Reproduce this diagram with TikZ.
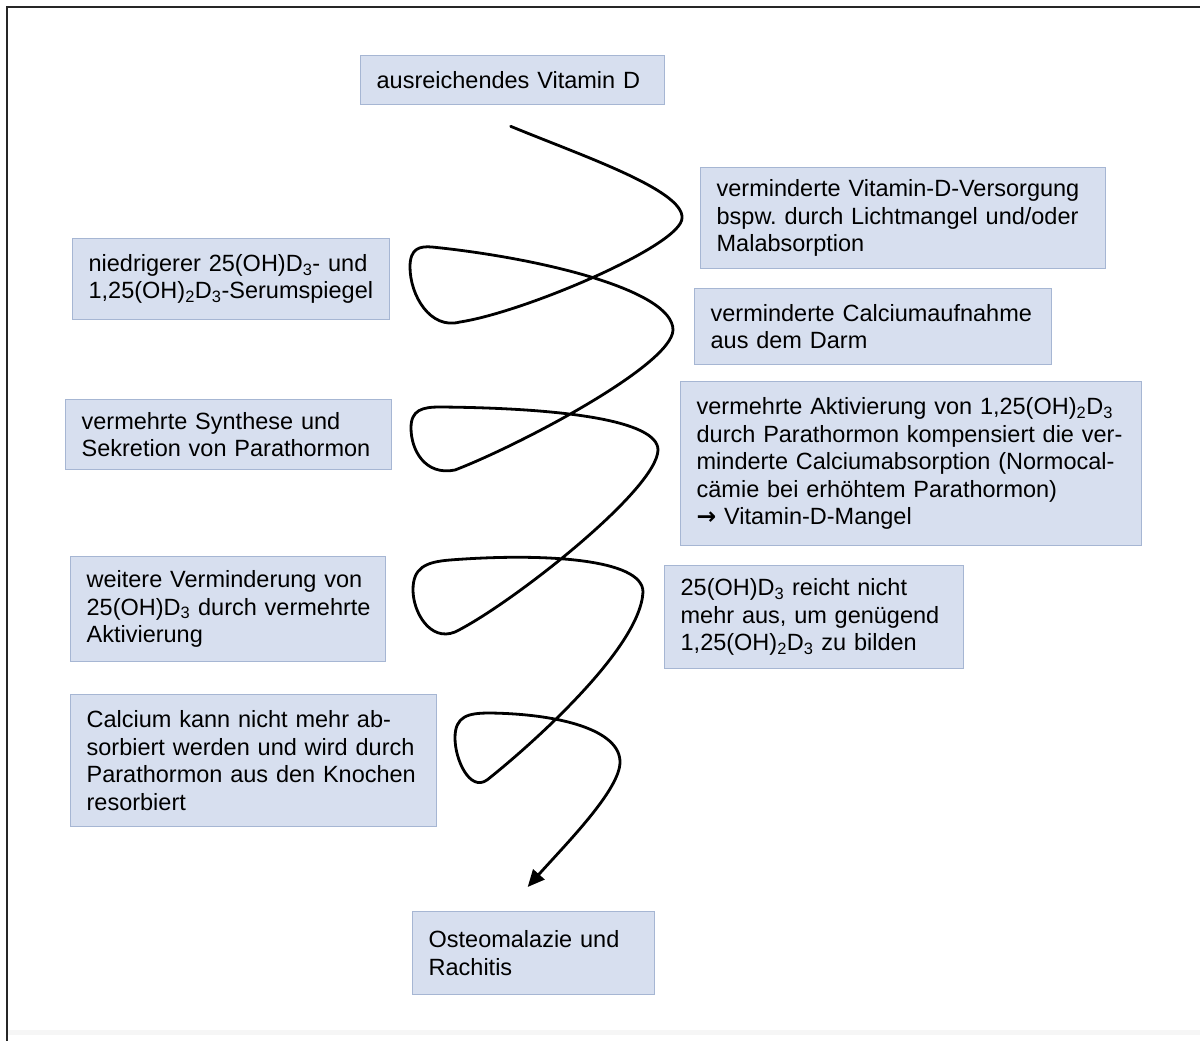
\documentclass[tikz,border=0pt]{standalone}
\usepackage{fontspec}
\setmainfont{Liberation Sans}
\newfontfamily\arrowfont{DejaVu Sans}
\usetikzlibrary{arrows.meta}
\frenchspacing

\definecolor{boxfill}{RGB}{215,223,239}
\definecolor{boxline}{RGB}{166,182,211}
\definecolor{stripgray}{RGB}{246,246,246}

\tikzset{
  infobox/.style={draw=boxline, fill=boxfill, line width=1.3pt,
    anchor=north west, align=left, inner xsep=16pt, inner ysep=0pt,
    font=\fontsize{23.5}{27.5}\selectfont},
  spiral/.style={line width=2.8pt, line cap=round, line join=round,
    -{Triangle[length=17pt,width=15pt]}},
  frameline/.style={line width=2pt, black!85}
}

\newcommand{\sub}[1]{\textsubscript{#1}}
% one unbreakable text line
\newcommand{\tl}[1]{\mbox{#1}}

\begin{document}
\begin{tikzpicture}[x=1pt, y=-1pt]
\useasboundingbox (0,0) rectangle (1200,1041);

% page frame
\fill[stripgray] (8,1030) rectangle (1200,1035);
\draw[frameline] (6.5,1041) -- (6.5,7.5) -- (1200,7.5);

% boxes
\node[infobox, minimum width=304pt, minimum height=49pt, text width=272pt] (vitd) at (360,55)
  {\tl{ausreichendes Vitamin D}};
\node[infobox, minimum width=405pt, minimum height=101pt, text width=373pt] (versorg) at (700,167)
  {\tl{verminderte Vitamin-D-Versorgung}\\\tl{bspw. durch Lichtmangel und/oder}\\\tl{Malabsorption}};
\node[infobox, minimum width=317pt, minimum height=81pt, text width=285pt] (serum) at (72,238)
  {\tl{niedrigerer 25(OH)D\sub{3}- und}\\\tl{1,25(OH)\sub{2}D\sub{3}-Serumspiegel}};
\node[infobox, minimum width=357pt, minimum height=76pt, text width=325pt] (aufnahme) at (694,288)
  {\tl{verminderte Calciumaufnahme}\\\tl{aus dem Darm}};
\node[infobox, minimum width=326pt, minimum height=70pt, text width=294pt] (synth) at (65,399)
  {\tl{vermehrte Synthese und}\\\tl{Sekretion von Parathormon}};
\node[infobox, minimum width=461pt, minimum height=164pt, text width=429pt] (aktiv) at (680,381)
  {\tl{vermehrte Aktivierung von 1,25(OH)\sub{2}D\sub{3}}\\\tl{durch Parathormon kompensiert die ver-}\\\tl{minderte Calciumabsorption (Normocal-}\\\tl{cämie bei erhöhtem Parathormon)}\\\tl{{\arrowfont\bfseries →} Vitamin-D-Mangel}};
\node[infobox, minimum width=315pt, minimum height=105pt, text width=283pt] (vermind) at (70,556)
  {\tl{weitere Verminderung von}\\\tl{25(OH)D\sub{3} durch vermehrte}\\\tl{Aktivierung}};
\node[infobox, minimum width=299pt, minimum height=103pt, text width=267pt] (reicht) at (664,565)
  {\tl{25(OH)D\sub{3} reicht nicht}\\\tl{mehr aus, um genügend}\\\tl{1,25(OH)\sub{2}D\sub{3} zu bilden}};
\node[infobox, minimum width=366pt, minimum height=132pt, text width=334pt] (resorb) at (70,694)
  {\tl{Calcium kann nicht mehr ab-}\\\tl{sorbiert werden und wird durch}\\\tl{Parathormon aus den Knochen}\\\tl{resorbiert}};
\node[infobox, minimum width=242pt, minimum height=83pt, text width=210pt] (osteo) at (412,911)
  {\tl{Osteomalazie und}\\\tl{Rachitis}};

% ends of the spiral connector
\coordinate (sstart) at ([xshift=-2pt,yshift=-21pt]vitd.south);
\coordinate (send) at ([xshift=-6pt,yshift=24pt]osteo.north);

% spiral from the first box down to the last one
\draw[spiral] (sstart)
  .. controls (580,155) and (684,190) .. (682,218)
  .. controls (682,245) and (525,312) .. (460,322)
  .. controls (430,330) and (410,295) .. (410,267)
  .. controls (410,248) and (420,246) .. (432,247)
  .. controls (540,258) and (673,290) .. (673,330)
  .. controls (672,365) and (520,445) .. (455,470)
  .. controls (425,476) and (411,450) .. (411,428)
  .. controls (411,410) and (422,407) .. (440,407)
  .. controls (560,408) and (658,420) .. (658,450)
  .. controls (657,490) and (510,605) .. (455,632)
  .. controls (430,642) and (413,612) .. (413,590)
  .. controls (413,568) and (425,562) .. (450,560)
  .. controls (540,553) and (643,558) .. (643,592)
  .. controls (640,650) and (525,750) .. (487,780)
  .. controls (470,792) and (455,760) .. (455,738)
  .. controls (455,716) and (468,713) .. (490,713)
  .. controls (560,714) and (620,730) .. (620,762)
  .. controls (620,790) and (565,845) .. (send);
\end{tikzpicture}
\end{document}
